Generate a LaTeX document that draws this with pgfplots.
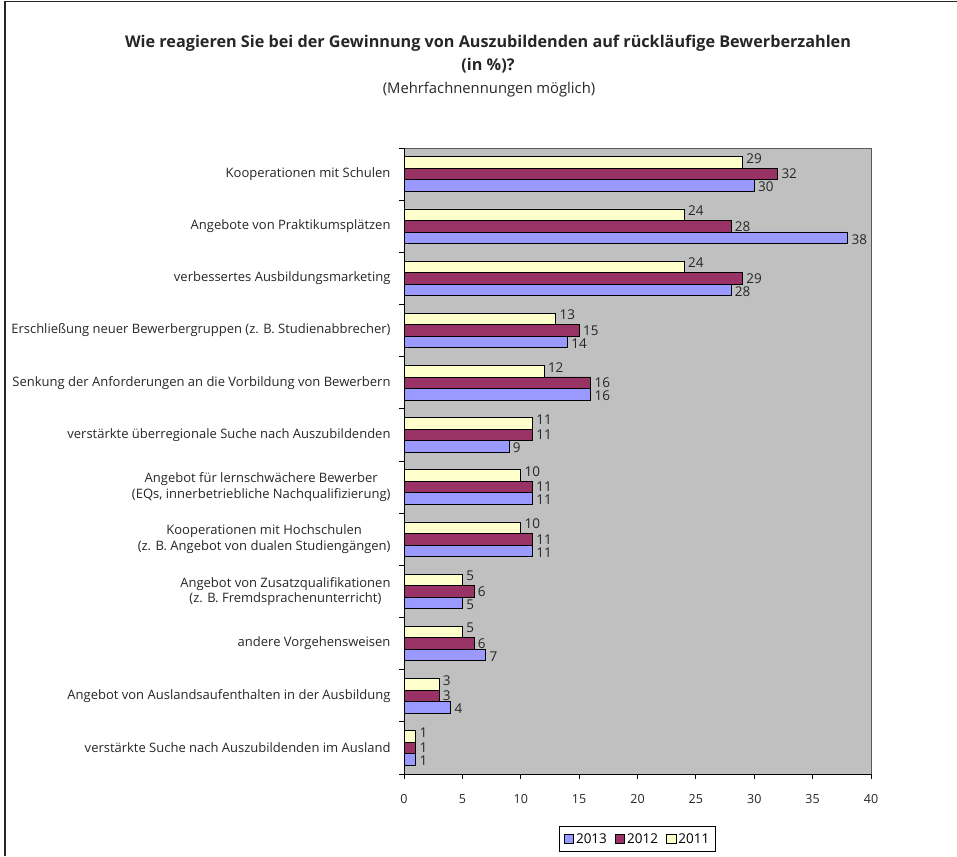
\documentclass[border=0pt]{standalone}
\usepackage{fontspec}
\setmainfont{Open Sans}
\usepackage{pgfplots}
\pgfplotsset{compat=1.18}
\definecolor{cA}{HTML}{9999FF}
\definecolor{cB}{HTML}{993366}
\definecolor{cC}{HTML}{FFFFCC}
\definecolor{bgc}{HTML}{C0C0C0}
\begin{document}
\begin{tikzpicture}[x=1pt,y=1pt]
\useasboundingbox (0,0) rectangle (957,856);
\draw[line width=1.2pt, black!85] (5,0) -- (5,854.5) -- (957,854.5);
\node[font=\fontsize{16.2}{19}\selectfont\bfseries, text=black!85] at (488,813) {Wie reagieren Sie bei der Gewinnung von Auszubildenden auf rückläufige Bewerberzahlen};
\node[font=\fontsize{16.2}{19}\selectfont\bfseries, text=black!85] at (488,790) {(in \%)?};
\node[font=\fontsize{14.8}{17}\selectfont, text=black!85] at (489,766) {(Mehrfachnennungen möglich)};
\begin{axis}[
  at={(404pt,82pt)}, anchor=south west,
  scale only axis, width=467pt, height=626pt,
  xbar, bar width=11.5pt,
  xmin=0, xmax=40, ymin=-0.5, ymax=11.5,
  xtick={0,5,...,40}, minor xtick={0,5,...,40},
  ytick={0,...,11}, minor ytick={-0.5,0.5,...,11.5},
  major tick length=0pt, minor tick length=5pt,
  tick align=outside,
  axis background/.style={fill=bgc, draw=gray!70!black},
  axis x line*=bottom, axis y line*=left,
  axis line style={black, line width=0.8pt, -},
  tick style={black, line width=0.8pt},
  /pgf/number format/assume math mode=true,
  tick label style={font=\fontsize{13}{15.5}\selectfont, text=black!85},
  xticklabel style={yshift=-17pt, font=\fontsize{12.5}{15}\selectfont},
  yticklabel style={align=center, xshift=-10pt},
  yticklabels={
    {verstärkte Suche nach Auszubildenden im Ausland},
    {Angebot von Auslandsaufenthalten in der Ausbildung},
    {andere Vorgehensweisen},
    {Angebot von Zusatzqualifikationen\\(z. B. Fremdsprachenunterricht)},
    {Kooperationen mit Hochschulen\\(z. B. Angebot von dualen Studiengängen)},
    {Angebot für lernschwächere Bewerber\\(EQs, innerbetriebliche Nachqualifizierung)},
    {verstärkte überregionale Suche nach Auszubildenden},
    {Senkung der Anforderungen an die Vorbildung von Bewerbern},
    {Erschließung neuer Bewerbergruppen (z. B. Studienabbrecher)},
    {verbessertes Ausbildungsmarketing},
    {Angebote von Praktikumsplätzen},
    {Kooperationen mit Schulen}},
  nodes near coords,
  nodes near coords style={font=\fontsize{13.5}{15}\selectfont, text=black!85, anchor=west, inner xsep=3.5pt, inner ysep=0pt},
  legend columns=3,
  legend style={at={(0.5,-0.083)}, anchor=north, draw=black, line width=0.8pt,
    font=\fontsize{13.5}{16}\selectfont, inner xsep=4pt, inner ysep=5pt,
    /tikz/every even column/.append style={column sep=6pt}},
  legend image code/.code={\draw[#1, line width=0.8pt] (0pt,-4.5pt) rectangle (9.5pt,5pt);},
]
\addplot[fill=cA, draw=black, line width=0.8pt, bar shift=-11.5pt,
  nodes near coords style={yshift=-1.5pt}] coordinates {
(1,0) (4,1) (7,2) (5,3) (11,4) (11,5) (9,6) (16,7) (14,8) (28,9) (38,10) (30,11)};
\addplot[fill=cB, draw=black, line width=0.8pt, bar shift=0pt] coordinates {
(1,0) (3,1) (6,2) (6,3) (11,4) (11,5) (11,6) (16,7) (15,8) (29,9) (28,10) (32,11)};
\addplot[fill=cC, draw=black, line width=0.8pt, bar shift=11.5pt,
  nodes near coords style={yshift=4pt}] coordinates {
(1,0) (3,1) (5,2) (5,3) (10,4) (10,5) (11,6) (12,7) (13,8) (24,9) (24,10) (29,11)};
\legend{2013,2012,2011}
\end{axis}
\end{tikzpicture}
\end{document}
